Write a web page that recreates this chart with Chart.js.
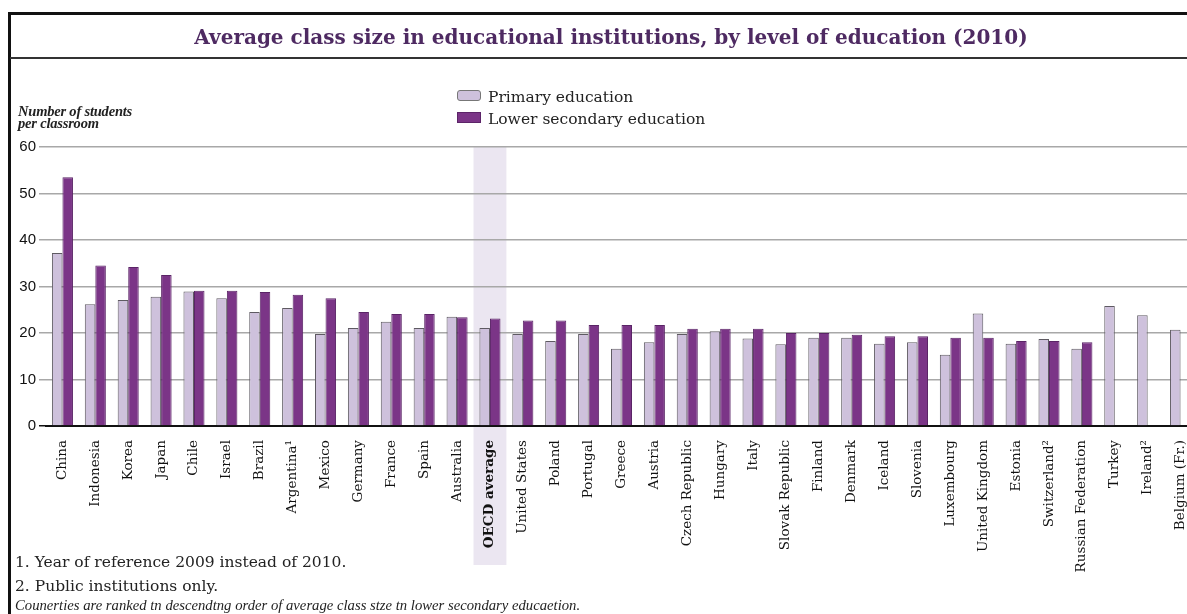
<!DOCTYPE html>
<html lang="en">
<head>
    <meta charset="UTF-8">
    <title>Average class size</title>
    <script src="https://cdn.jsdelivr.net/npm/chart.js"></script>
    <style>
        html, body { margin: 0; padding: 0; background: #fff; overflow: hidden; }
        body { width: 1187px; height: 614px; position: relative; }
        .frame { position: absolute; left: 8px; top: 12px; width: 1200px; height: 620px; border-left: 3px solid #111; border-top: 3px solid #111; }
        .titulo { position: absolute; left: 0; top: 25px; width: 1222px; text-align: center; font-family: "DejaVu Serif", serif; font-weight: bold; font-size: 20px; color: #4e2a62; }
        .linha { position: absolute; left: 10px; top: 57px; width: 1190px; height: 2px; background: #333; }
        .legenda { position: absolute; left: 457px; font-family: "DejaVu Serif", serif; font-size: 15.5px; color: #222; }
        .legenda span.box { display: inline-block; width: 22px; height: 9px; margin-right: 7px; vertical-align: 1px; }
        .eixo { position: absolute; left: 18px; top: 105px; font-family: "Liberation Serif", serif; font-style: italic; font-weight: bold; font-size: 14.5px; line-height: 12px; letter-spacing: -0.2px; color: #222; }
        .nota { position: absolute; left: 15px; font-family: "DejaVu Serif", serif; font-size: 15.5px; color: #222; }
    </style>
</head>
<body>
    <canvas id="grafico" width="1210" height="614" style="position:absolute; left:0; top:0;"></canvas>
    <div class="frame"></div>
    <div class="titulo">Average class size in educational institutions, by level of education (2010)</div>
    <div class="linha"></div>

    <div class="legenda" style="top:88px;"><span class="box" style="background:#cec1dc; border:1px solid #777; border-radius:3px;"></span>Primary education</div>
    <div class="legenda" style="top:110px;"><span class="box" style="background:#7b3587; border:1px solid #5c2468;"></span>Lower secondary education</div>

    <div class="eixo">Number of students<br>per classroom</div>

    <div class="nota" style="top:553px;">1. Year of reference 2009 instead of 2010.</div>
    <div class="nota" style="top:577px;">2. Public institutions only.</div>
    <div class="nota" style="top:597px; font-family:'Liberation Serif', serif; font-style:italic; font-size:14.7px;">Counerties are ranked tn descendtng order of average class stze tn lower secondary educaetion.</div>

    <script>
        // dados
        const paises = ['China', 'Indonesia', 'Korea', 'Japan', 'Chile', 'Israel', 'Brazil', 'Argentina\u00b9', 'Mexico', 'Germany',
            'France', 'Spain', 'Australia', 'OECD average', 'United States', 'Poland', 'Portugal', 'Greece', 'Austria', 'Czech Republic',
            'Hungary', 'Italy', 'Slovak Republic', 'Finland', 'Denmark', 'Iceland', 'Slovenia', 'Luxembourg', 'United Kingdom', 'Estonia',
            'Switzerland\u00b2', 'Russian Federation', 'Turkey', 'Ireland\u00b2', 'Belgium (Fr.)'];
        const primario = [37.2, 26.2, 27.1, 27.8, 28.9, 27.5, 24.5, 25.4, 19.8, 21.1,
            22.4, 21.1, 23.5, 21.1, 19.8, 18.3, 19.8, 16.6, 18.0, 19.8,
            20.4, 18.8, 17.6, 19.0, 19.0, 17.7, 18.0, 15.3, 24.2, 17.7,
            18.7, 16.6, 25.8, 23.8, 20.7];
        const secundario = [53.5, 34.5, 34.2, 32.5, 29.1, 29.1, 28.8, 28.2, 27.5, 24.5,
            24.1, 24.1, 23.4, 23.1, 22.7, 22.7, 21.7, 21.7, 21.7, 20.9,
            20.9, 20.9, 20.0, 20.0, 19.6, 19.3, 19.3, 19.0, 19.0, 18.3,
            18.3, 18.0, null, null, null];
        const ticksY = [0, 10, 20, 30, 40, 50, 60];
        const indiceOCDE = 13;

        // faixa de destaque da media OCDE
        const faixaOCDE = {
            id: 'faixaOCDE',
            beforeDraw(chart) {
                const x = chart.scales.x;
                const w = x.getPixelForTick(1) - x.getPixelForTick(0);
                const cx = x.getPixelForTick(indiceOCDE);
                const c = chart.ctx;
                c.save();
                c.fillStyle = '#ebe6f1';
                c.fillRect(cx - w / 2, chart.chartArea.top, w, 565 - chart.chartArea.top);
                c.restore();
            }
        };

        const ctx = document.getElementById('grafico').getContext('2d');
        new Chart(ctx, {
            type: 'bar',
            data: {
                labels: paises,
                datasets: [
                    {
                        label: 'Primary education',
                        data: primario,
                        backgroundColor: '#cec1dc',
                        borderColor: '#5e5a62',
                        borderWidth: 1,
                        borderSkipped: 'bottom',
                        categoryPercentage: 0.64,
                        barPercentage: 1.0
                    },
                    {
                        label: 'Lower secondary education',
                        data: secundario,
                        backgroundColor: '#7b3587',
                        borderColor: '#5a2466',
                        borderWidth: 1,
                        borderSkipped: 'bottom',
                        categoryPercentage: 0.64,
                        barPercentage: 1.0
                    }
                ]
            },
            options: {
                responsive: false,
                animation: false,
                layout: { padding: { top: 147, right: 13, left: 0, bottom: 0 } },
                plugins: {
                    legend: { display: false },
                    title: { display: false },
                    tooltip: { enabled: false }
                },
                scales: {
                    x: {
                        grid: { display: false },
                        border: { color: '#111', width: 2 },
                        ticks: {
                            autoSkip: false,
                            minRotation: 90,
                            maxRotation: 90,
                            padding: 6,
                            color: '#111',
                            font: c => ({ family: 'DejaVu Serif', size: 13.5, weight: c.index === indiceOCDE ? 'bold' : 'normal' })
                        },
                        afterFit: s => { s.height = 188; }
                    },
                    y: {
                        min: 0,
                        max: 60,
                        afterBuildTicks: s => { s.ticks = ticksY.map(v => ({ value: v })); },
                        border: { display: false },
                        grid: {
                            color: c => c.tick && c.tick.value === 0 ? '#111' : '#a8a8a8',
                            lineWidth: 1.5,
                            tickLength: 7
                        },
                        ticks: {
                            padding: 3,
                            color: '#111',
                            font: { family: 'Liberation Sans', size: 15 }
                        },
                        afterFit: s => { s.width = 46; }
                    }
                }
            },
            plugins: [faixaOCDE]
        });
    </script>
</body>
</html>
